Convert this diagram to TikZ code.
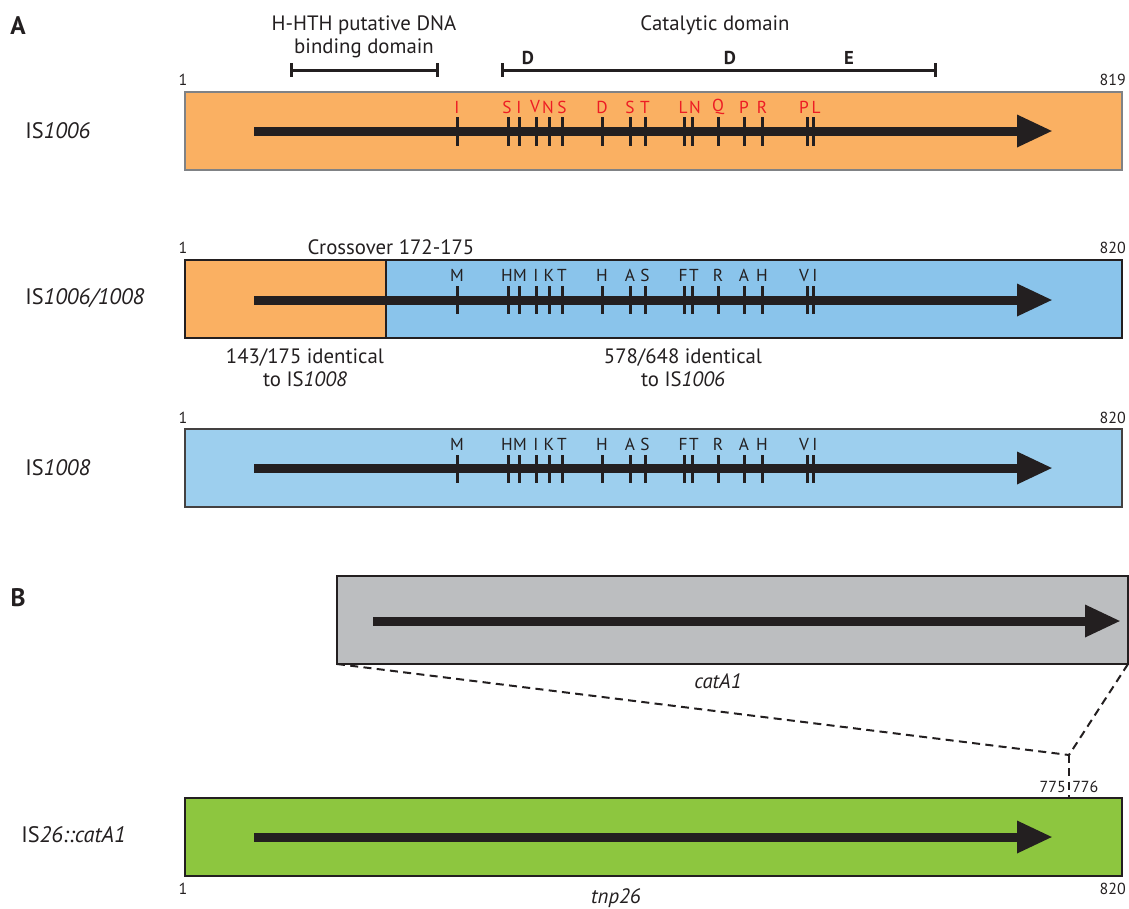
\documentclass[tikz,border=0pt]{standalone}
\usepackage{fontspec}
\setmainfont{PT Sans}
\usetikzlibrary{arrows.meta}
\definecolor{orng}{HTML}{FAB062}
\definecolor{blutwo}{HTML}{8AC4EB}
\definecolor{bluthree}{HTML}{9DCFEE}
\definecolor{gry}{HTML}{BCBEC0}
\definecolor{grn}{HTML}{8DC63F}
\definecolor{ink}{HTML}{231F20}
\definecolor{redt}{HTML}{ED1C24}
\definecolor{bordone}{HTML}{808285}
\begin{document}
\begin{tikzpicture}[x=0.75pt,y=-0.75pt,
  seqbox/.style={inner sep=0pt, outer sep=0pt, anchor=north west, line width=1.8pt, minimum height=58.5pt},
  orf/.style={line width=6.75pt, draw=ink, -{Triangle[length=27pt,width=22.5pt]}},
  tickmark/.style={line width=2.25pt, draw=ink},
  redlab/.style={text=redt, font=\fontsize{13}{15}\selectfont, inner sep=0pt},
  blklab/.style={text=ink, font=\fontsize{13}{15}\selectfont, inner sep=0pt},
  numlab/.style={text=ink, font=\fontsize{12}{14}\selectfont, inner sep=0pt},
  islab/.style={text=ink, font=\fontsize{16.8}{19}\selectfont, anchor=west, inner sep=0pt},
  txtlab/.style={text=ink, font=\fontsize{15.6}{17.5}\selectfont, inner sep=0pt, align=center},
  panellab/.style={text=ink, font=\fontsize{19}{22}\selectfont\bfseries, inner sep=0pt},
  domlab/.style={text=ink, font=\fontsize{14}{16}\selectfont\bfseries, inner sep=0pt},
  dombar/.style={line width=2.25pt, draw=ink, {Bar[width=10pt]}-{Bar[width=10pt]}},
  dashline/.style={line width=1.5pt, dash pattern=on 6pt off 4pt, draw=ink}
]
\useasboundingbox (0,0) rectangle (1129,908);

% ---------- Panel A ----------
\node[panellab] (pA) at (18,26) {A};
\node[txtlab] (hhth) at (364,37) {H-HTH putative DNA\\binding domain};
\node[txtlab] (catd) at (715,25) {Catalytic domain};
\coordinate (hs) at (290,70);
\coordinate (he) at (439,70);
\coordinate (cs) at (501,70);
\coordinate (ce) at (937,70);
\draw[dombar] (hs) -- (he);
\draw[dombar] (cs) -- (ce);
\node[domlab] (d1) at (528,58) {D};
\node[domlab] (d2) at (730,58) {D};
\node[domlab] (e1) at (849,58) {E};

% IS1006
\node[seqbox, fill=orng, draw=bordone, minimum width=702.75pt] (b1) at (185,92) {};
\node[numlab] (n1a) at (183,80) {1};
\node[numlab, anchor=east] (n1b) at (1126,80) {819};
\node[islab] (is1) at (25,131) {IS\textit{1006}};
\coordinate (a1s) at (254,131);
\coordinate (a1e) at (1053,131);
\draw[orf] (a1s) -- (a1e);
\foreach \x/\lx/\l [count=\i] in {457/457/I,508/507/S,519/519/I,536/535/V,549/548/N,562/562/S,602/602/D,630/630/S,645/645/T,684/683/L,692/695/N,718/718/Q,744/744/P,762/762/R,807/804/P,813/816/L}{
  \draw[tickmark] (\x,117) -- (\x,146);
  \node[redlab] (ra\i) at (\lx,107) {\l};
}

% IS1006/1008
\node[seqbox, fill=orng, draw=ink, minimum width=150.75pt] (b2l) at (185,260) {};
\node[seqbox, fill=blutwo, draw=ink, minimum width=552pt] (b2r) at (386,260) {};
\node[numlab] (n2a) at (183,248) {1};
\node[numlab, anchor=east] (n2b) at (1126,248) {820};
\node[txtlab] (cross) at (391,247) {Crossover 172-175};
\node[islab] (is2) at (25,298) {IS\textit{1006/1008}};
\coordinate (a2s) at (254,300);
\coordinate (a2e) at (1053,300);
\draw[orf] (a2s) -- (a2e);
\foreach \x/\lx/\l [count=\i] in {457/457/M,508/507/H,519/520/M,536/536/I,549/549/K,562/562/T,602/602/H,630/630/A,645/645/S,684/683/F,692/694/T,718/718/R,744/744/A,762/762/H,807/804/V,813/815/I}{
  \draw[tickmark] (\x,286) -- (\x,314);
  \node[blklab] (rb\i) at (\lx,275.5) {\l};
}
\node[txtlab] (id1) at (305,367.5) {143/175 identical\\to IS\textit{1008}};
\node[txtlab] (id2) at (683,367.5) {578/648 identical\\to IS\textit{1006}};

% IS1008
\node[seqbox, fill=bluthree, draw=ink!85, minimum width=702.75pt] (b3) at (185,429) {};
\node[numlab] (n3a) at (183,418) {1};
\node[numlab, anchor=east] (n3b) at (1126,418) {820};
\node[islab] (is3) at (25,468) {IS\textit{1008}};
\coordinate (a3s) at (254,468);
\coordinate (a3e) at (1053,468);
\draw[orf] (a3s) -- (a3e);
\foreach \x/\lx/\l [count=\i] in {457/457/M,508/507/H,519/520/M,536/536/I,549/549/K,562/562/T,602/602/H,630/630/A,645/645/S,684/683/F,692/694/T,718/718/R,744/744/A,762/762/H,807/804/V,813/815/I}{
  \draw[tickmark] (\x,455) -- (\x,483);
  \node[blklab] (rc\i) at (\lx,444.5) {\l};
}

% ---------- Panel B ----------
\node[panellab] (pB) at (18,598) {B};
\node[seqbox, fill=gry, draw=ink, minimum width=593.25pt, minimum height=66pt] (gb) at (337,576) {};
\coordinate (a4s) at (373,621);
\coordinate (a4e) at (1121,621);
\draw[orf] (a4s) -- (a4e);
\node[txtlab, font=\fontsize{15.6}{18}\selectfont\itshape] (cat) at (718,681) {catA1};

\node[seqbox, fill=grn, draw=ink, minimum width=702.75pt] (gr) at (185,798) {};
\coordinate (jn) at (1069,755);
\coordinate (jt) at (1069,798);
\draw[dashline] (gb.south west) -- (jn);
\draw[dashline] (gb.south east) -- (jn);
\draw[dashline] (jn) -- (jt);
\node[numlab, anchor=east] (n775) at (1066,787) {775};
\node[numlab, anchor=west] (n776) at (1072,787) {776};
\node[islab] (is4) at (21,835) {IS\textit{26::catA1}};
\coordinate (a5s) at (254,837);
\coordinate (a5e) at (1053,837);
\draw[orf] (a5s) -- (a5e);
\node[numlab] (n5a) at (183,889) {1};
\node[numlab, anchor=east] (n5b) at (1126,889) {820};
\node[txtlab, font=\fontsize{15.6}{18}\selectfont\itshape] (tnp) at (616,898) {tnp26};
\end{tikzpicture}
\end{document}
